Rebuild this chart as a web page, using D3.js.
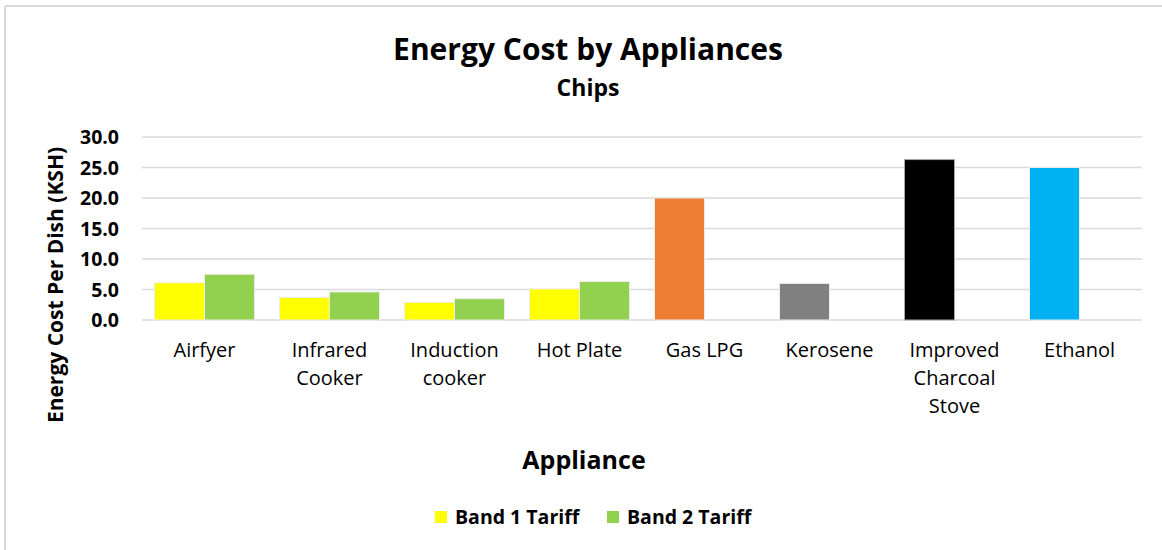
<!DOCTYPE html>
<html>
<head>
<meta charset="utf-8">
<script src="https://cdn.jsdelivr.net/npm/d3@7"></script>
<style>
  body { margin: 0; background: #fff; }
  svg text { font-family: "Open Sans", Lato, sans-serif; fill: #000; }
</style>
</head>
<body>
<div id="chart"></div>
<script>
// data
var categories = [["Airfyer"], ["Infrared", "Cooker"], ["Induction", "cooker"], ["Hot Plate"],
                  ["Gas LPG"], ["Kerosene"], ["Improved", "Charcoal", "Stove"], ["Ethanol"]];
var series = ["Band 1 Tariff", "Band 2 Tariff"];
var band1 = [6.1, 3.7, 2.9, 5.1, 20.0, 6.0, 26.3, 25.0];
var band2 = [7.5, 4.6, 3.5, 6.3, null, null, null, null];
var yTicks = [0, 5, 10, 15, 20, 25, 30];

// colours: band 1 slot changes per appliance, band 2 is always green
var band1Colors = ["#ffff00", "#ffff00", "#ffff00", "#ffff00", "#ed7d31", "#808080", "#000000", "#00b0f0"];
var band2Color = "#92d050";

var W = 1162, H = 550;
var margin = {top: 137, right: 20, bottom: 230, left: 142},
    width = 1142 - margin.left,
    height = 320 - margin.top;

var svg = d3.select("#chart").append("svg")
    .attr("width", W)
    .attr("height", H);

// outer chart frame (only top + left visible in reference)
svg.append("line").attr("x1", 5).attr("x2", W).attr("y1", 6).attr("y2", 6)
    .attr("stroke", "#d9d9d9").attr("stroke-width", 2);
svg.append("line").attr("x1", 5).attr("x2", 5).attr("y1", 6).attr("y2", H)
    .attr("stroke", "#d9d9d9").attr("stroke-width", 2);

var g = svg.append("g")
    .attr("transform", "translate(" + margin.left + "," + margin.top + ")");

var keys = categories.map(function(d) { return d.join(" "); });

var x0 = d3.scaleBand().domain(keys).range([0, width]).padding(0);
var x1 = d3.scaleBand().domain(series).range([0, x0.bandwidth()]).paddingInner(0).paddingOuter(0.25);
var y = d3.scaleLinear().domain([0, 30]).range([height, 0]);

// gridlines
g.append("g").selectAll("line")
  .data(yTicks)
  .enter().append("line")
    .attr("x1", 0).attr("x2", width)
    .attr("y1", function(d) { return y(d); })
    .attr("y2", function(d) { return y(d); })
    .attr("stroke", "#d9d9d9")
    .attr("stroke-width", 1.5);

// y tick labels
g.append("g").selectAll("text")
  .data(yTicks)
  .enter().append("text")
    .attr("x", -23)
    .attr("y", function(d) { return y(d); })
    .attr("dy", "0.36em")
    .attr("text-anchor", "end")
    .style("font-weight", "bold")
    .style("font-size", "19.5px")
    .text(function(d) { return d3.format(".1f")(d); });

// bars
var rows = keys.map(function(k, i) {
  return [
    {key: k, s: series[0], v: band1[i], c: band1Colors[i]},
    {key: k, s: series[1], v: band2[i], c: band2Color}
  ];
});

var groups = g.append("g").selectAll("g")
  .data(rows)
  .enter().append("g")
    .attr("transform", function(d, i) { return "translate(" + x0(keys[i]) + ",0)"; });

groups.selectAll("rect")
  .data(function(d) { return d.filter(function(b) { return b.v != null; }); })
  .enter().append("rect")
    .attr("x", function(d) { return x1(d.s); })
    .attr("y", function(d) { return y(d.v); })
    .attr("width", x1.bandwidth())
    .attr("height", function(d) { return y(0) - y(d.v); })
    .attr("fill", function(d) { return d.c; })
    .attr("stroke", function(d) { return d.c == "#000000" ? "#a6a6a6" : "#ececec"; })
    .attr("stroke-width", 1);

// x category labels
var xl = g.append("g").selectAll("text")
  .data(categories)
  .enter().append("text")
    .attr("x", function(d, i) { return x0(keys[i]) + x0.bandwidth() / 2; })
    .attr("y", height + 37)
    .attr("text-anchor", "middle")
    .style("font-size", "20px");
xl.selectAll("tspan")
  .data(function(d) { return d; })
  .enter().append("tspan")
    .attr("x", function() { return this.parentNode.getAttribute("x"); })
    .attr("dy", function(d, i) { return i == 0 ? 0 : 28; })
    .text(function(d) { return d; });

// titles
svg.append("text")
    .attr("x", 588).attr("y", 60)
    .attr("text-anchor", "middle")
    .style("font-weight", "bold").style("font-size", "30px")
    .text("Energy Cost by Appliances");
svg.append("text")
    .attr("x", 588).attr("y", 96)
    .attr("text-anchor", "middle")
    .style("font-weight", "bold").style("font-size", "23px")
    .text("Chips");

svg.append("text")
    .attr("transform", "translate(63,285) rotate(-90)")
    .attr("text-anchor", "middle")
    .style("font-weight", "bold").style("font-size", "21px")
    .text("Energy Cost Per Dish (KSH)");

svg.append("text")
    .attr("x", 584).attr("y", 469)
    .attr("text-anchor", "middle")
    .style("font-weight", "bold").style("font-size", "25px")
    .text("Appliance");

// legend
var legendX = [435, 607];
var legend = svg.append("g").selectAll("g")
  .data(series)
  .enter().append("g")
    .attr("transform", function(d, i) { return "translate(" + legendX[i] + ",511)"; });
legend.append("rect")
    .attr("width", 12).attr("height", 12)
    .attr("fill", function(d, i) { return i == 0 ? band1Colors[0] : band2Color; });
legend.append("text")
    .attr("x", 20).attr("y", 13)
    .style("font-weight", "bold").style("font-size", "19.5px")
    .text(function(d) { return d; });
</script>
</body>
</html>
